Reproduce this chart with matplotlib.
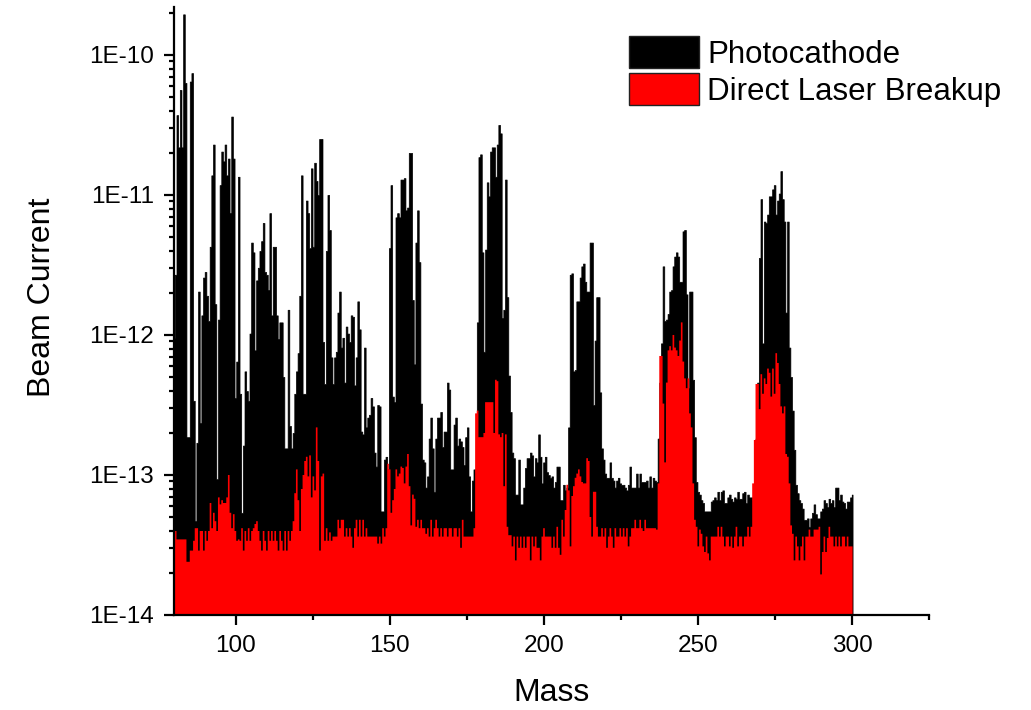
import numpy as np
import matplotlib
matplotlib.use("Agg")
import matplotlib.pyplot as plt
from matplotlib.patches import Patch
from matplotlib.ticker import LogLocator, FuncFormatter, NullFormatter

plt.rcParams['font.family'] = ['Liberation Sans', 'DejaVu Sans']

# ---------------- data (log10 of beam current, evenly sampled in mass) ----------------
MASS_FIRST = 80.0
MASS_LAST = 300.2

photocathode_80_132 = [
    -12.02, -11.57, -10.43, -10.66, -10.25, -10.66, -9.71, -10.20, -12.73, -12.73,
    -10.19, -10.13, -12.47, -13.33, -12.77, -11.69, -12.63, -11.86, -11.59, -11.55,
    -11.72, -11.90, -11.37, -10.86, -10.64, -11.78, -13.03, -11.89, -10.93, -10.69,
    -10.76, -10.64, -10.86, -10.74, -11.13, -10.44, -10.74, -12.45, -12.19, -10.87,
    -12.42, -13.27, -12.79, -12.26, -12.40, -12.47, -11.99, -11.34, -11.41, -12.11,
    -11.61, -11.52, -11.40, -11.33, -11.20, -11.55, -11.57, -11.68, -11.13, -11.86,
    -11.37, -11.37, -11.86, -12.03, -11.91, -11.91, -12.30, -12.81, -12.81, -11.82,
    -12.65, -12.81, -12.70, -12.42, -12.26, -12.13, -11.72, -10.86, -12.42, -12.42,
    -11.04, -11.13, -11.38, -10.81, -11.37, -10.77, -10.90, -11.00, -10.60, -10.60,
    -12.05, -12.35, -11.40, -11.00, -11.25, -12.16, -12.35, -12.16, -12.12]
photocathode_132_184 = [
    -11.84, -11.69, -12.09, -12.02, -12.34, -11.94, -11.99, -12.05, -11.86, -11.87,
    -12.36, -12.16, -11.76, -11.96, -12.69, -12.71, -12.09, -12.66, -12.59, -12.57,
    -12.45, -12.51, -12.84, -12.94, -12.50, -12.51, -13.26, -13.26, -12.89, -12.87,
    -12.96, -11.38, -10.93, -12.44, -12.48, -11.16, -11.13, -11.16, -10.89, -10.89,
    -10.88, -11.11, -11.09, -10.70, -10.70, -11.75, -12.21, -11.34, -11.11, -11.48,
    -12.49, -12.89, -12.91, -13.09, -13.01, -12.74, -12.59, -12.81, -13.12, -12.74,
    -12.59, -12.59, -12.55, -12.80, -12.69, -12.69, -12.34, -12.39, -12.96, -12.96,
    -12.64, -12.59, -12.79, -12.74, -12.76, -12.80, -12.93, -12.73, -12.66, -13.01,
    -13.26, -13.04, -12.96, -12.98, -11.91, -10.73, -10.71, -11.41, -12.12, -11.39,
    -10.91, -11.01, -10.69, -10.66, -10.66, -10.87]
photocathode_184_236 = [
    -10.64, -10.50, -10.56, -11.88, -11.82, -10.89, -11.73, -12.29, -12.55, -12.84,
    -12.88, -13.14, -13.14, -12.89, -13.21, -13.21, -13.09, -12.95, -12.88, -12.88,
    -12.84, -12.86, -13.01, -12.88, -12.91, -12.71, -12.87, -13.06, -12.91, -12.87,
    -12.98, -13.00, -13.02, -13.01, -13.09, -13.05, -12.94, -12.94, -13.18, -13.18,
    -13.07, -13.11, -13.09, -12.66, -11.57, -11.56, -12.26, -12.25, -11.76, -11.76,
    -11.59, -11.51, -11.49, -11.62, -11.69, -11.69, -11.34, -11.34, -12.50, -12.04,
    -11.73, -11.73, -12.41, -12.81, -12.89, -12.99, -13.02, -13.02, -12.91, -13.02,
    -13.04, -13.09, -13.04, -13.02, -13.06, -13.07, -13.07, -13.09, -13.11, -13.07,
    -12.94, -13.09, -13.09, -13.09, -12.99, -13.09, -12.99, -13.05, -13.05, -13.05,
    -13.04, -13.09, -13.01, -13.09, -13.02, -13.04]
photocathode_236_300 = [
    -13.05, -12.74, -12.34, -12.06, -11.51, -11.90, -11.89, -11.85, -11.69, -11.68,
    -11.51, -11.44, -11.41, -11.44, -11.62, -11.62, -11.26, -11.25, -11.71, -12.38,
    -11.69, -11.69, -12.32, -12.73, -13.05, -13.12, -13.14, -13.18, -13.20, -13.26,
    -13.26, -13.26, -13.26, -13.19, -13.18, -13.16, -13.18, -13.12, -13.18, -13.12,
    -13.11, -13.20, -13.20, -13.16, -13.14, -13.17, -13.19, -13.16, -13.17, -13.12,
    -13.17, -13.17, -13.13, -13.12, -13.20, -13.14, -13.16, -13.16, -13.18, -13.18,
    -12.74, -12.34, -11.45, -11.03, -12.06, -11.19, -11.20, -11.14, -11.01, -11.01,
    -10.96, -10.93, -11.14, -11.04, -10.99, -10.83, -11.03, -11.19, -11.84, -11.19,
    -12.09, -12.30, -12.54, -12.82, -13.07, -13.13, -13.18, -13.20, -13.24, -13.32,
    -13.32, -13.31, -13.37, -13.31, -13.27, -13.21, -13.28, -13.31, -13.31, -13.26,
    -13.24, -13.18, -13.20, -13.23, -13.17, -13.20, -13.18, -13.23, -13.09, -13.09,
    -13.18, -13.14, -13.19, -13.20, -13.24, -13.19, -13.19, -13.16, -13.14]

laser_80_132 = [
    -13.40, -13.40, -13.46, -13.46, -13.46, -13.46, -13.46, -13.46, -13.62, -13.62,
    -13.54, -13.54, -13.47, -13.38, -13.38, -13.54, -13.40, -13.40, -13.54, -13.40,
    -13.47, -13.40, -13.20, -13.38, -13.27, -13.33, -13.40, -13.16, -13.21, -13.18,
    -13.20, -13.20, -13.16, -13.00, -13.27, -13.38, -13.28, -13.40, -13.47, -13.46,
    -13.47, -13.38, -13.54, -13.40, -13.47, -13.38, -13.47, -13.40, -13.38, -13.35,
    -13.33, -13.40, -13.47, -13.54, -13.40, -13.47, -13.54, -13.40, -13.47, -13.40,
    -13.47, -13.40, -13.47, -13.54, -13.40, -13.47, -13.54, -13.40, -13.54, -13.40,
    -13.47, -13.40, -13.33, -13.13, -12.96, -13.18, -13.40, -13.10, -13.00, -12.90,
    -12.87, -13.01, -12.86, -13.16, -13.01, -13.11, -12.66, -12.90, -13.54, -13.01,
    -12.99, -13.47, -13.38, -13.47, -13.41, -13.47, -13.44, -13.44, -13.44]
laser_132_184 = [
    -13.32, -13.38, -13.32, -13.32, -13.44, -13.38, -13.44, -13.38, -13.44, -13.52,
    -13.38, -13.32, -13.44, -13.32, -13.44, -13.32, -13.44, -13.38, -13.44, -13.44,
    -13.44, -13.44, -13.44, -13.44, -13.49, -13.44, -13.49, -13.38, -13.44, -13.38,
    -12.92, -12.96, -13.27, -13.18, -13.10, -12.96, -13.01, -12.99, -12.94, -12.95,
    -13.06, -12.94, -12.85, -13.08, -13.36, -13.14, -13.17, -13.37, -13.32, -13.38,
    -13.32, -13.38, -13.38, -13.42, -13.38, -13.44, -13.32, -13.44, -13.38, -13.32,
    -13.38, -13.44, -13.38, -13.44, -13.38, -13.38, -13.44, -13.38, -13.38, -13.44,
    -13.38, -13.38, -13.44, -13.38, -13.52, -13.32, -13.44, -13.44, -13.44, -13.44,
    -13.44, -13.44, -13.38, -12.56, -12.54, -12.73, -12.73, -12.73, -12.70, -12.48,
    -12.48, -12.48, -12.48, -12.48, -12.70, -12.32]
laser_184_236 = [
    -12.33, -12.71, -12.73, -12.70, -13.08, -12.71, -13.37, -13.43, -13.43, -13.51,
    -13.44, -13.61, -13.44, -13.52, -13.44, -13.52, -13.44, -13.52, -13.44, -13.44,
    -13.61, -13.44, -13.51, -13.44, -13.52, -13.52, -13.61, -13.44, -13.38, -13.44,
    -13.44, -13.44, -13.44, -13.52, -13.44, -13.52, -13.37, -13.52, -13.57, -13.32,
    -13.44, -13.25, -13.07, -13.11, -13.51, -13.15, -13.08, -13.02, -12.99, -12.96,
    -13.01, -13.05, -13.06, -13.06, -12.88, -12.90, -13.30, -13.44, -13.12, -13.12,
    -13.37, -13.44, -13.44, -13.38, -13.44, -13.38, -13.52, -13.44, -13.38, -13.44,
    -13.52, -13.38, -13.44, -13.44, -13.38, -13.44, -13.38, -13.44, -13.38, -13.51,
    -13.44, -13.38, -13.38, -13.32, -13.38, -13.38, -13.32, -13.38, -13.40, -13.32,
    -13.38, -13.38, -13.38, -13.38, -13.38, -13.38]
laser_236_300 = [
    -13.39, -13.06, -12.15, -12.15, -12.49, -12.91, -12.34, -12.11, -12.08, -12.11,
    -12.00, -12.09, -12.11, -12.15, -12.04, -11.91, -12.19, -12.31, -12.38, -12.31,
    -12.56, -12.66, -13.06, -13.32, -13.37, -13.51, -13.39, -13.42, -13.51, -13.55,
    -13.44, -13.56, -13.61, -13.44, -13.44, -13.44, -13.44, -13.37, -13.44, -13.37,
    -13.44, -13.51, -13.44, -13.44, -13.51, -13.44, -13.52, -13.44, -13.37, -13.51,
    -13.44, -13.44, -13.51, -13.44, -13.44, -13.37, -13.44, -13.37, -13.06, -12.75,
    -12.35, -12.35, -12.53, -12.28, -12.42, -12.31, -12.35, -12.24, -12.27, -12.44,
    -12.24, -12.42, -12.13, -12.20, -12.35, -12.51, -12.56, -12.51, -12.85, -12.87,
    -13.06, -13.36, -13.42, -13.61, -13.44, -13.51, -13.61, -13.51, -13.44, -13.61,
    -13.44, -13.44, -13.39, -13.44, -13.44, -13.39, -13.39, -13.39, -13.37, -13.71,
    -13.55, -13.44, -13.55, -13.45, -13.37, -13.44, -13.44, -13.51, -13.44, -13.51,
    -13.44, -13.51, -13.44, -13.44, -13.51, -13.44, -13.51, -13.51, -13.51]

series_labels = ["Photocathode", "Direct Laser Breakup"]
x_major_ticks = [100, 150, 200, 250, 300]
x_minor_ticks = [125, 175, 225, 275, 325]
y_major_ticks = [1e-14, 1e-13, 1e-12, 1e-11, 1e-10]

# ---------------- build series ----------------
photocathode_log = (photocathode_80_132 + photocathode_132_184
                    + photocathode_184_236 + photocathode_236_300)
laser_log = laser_80_132 + laser_132_184 + laser_184_236 + laser_236_300
mass = np.linspace(MASS_FIRST, MASS_LAST, len(photocathode_log))
photocathode = 10.0 ** np.array(photocathode_log)
laser = 10.0 ** np.array(laser_log)

# ---------------- figure ----------------
W, H = 1031, 710
fig = plt.figure(figsize=(W / 100, H / 100), dpi=100)
ax = fig.add_axes([174 / W, 1 - 615 / H, (929 - 174) / W, (615 - 7) / H])

base = 1e-14
ax.fill_between(mass, base, photocathode, step='mid', facecolor='black',
                edgecolor='black', lw=0.5, zorder=2)
ax.fill_between(mass, base, laser, step='mid', facecolor='#ff0000',
                edgecolor='none', lw=0, zorder=3)

ax.set_yscale('log')
ax.set_ylim(1e-14, 2.2e-10)
ax.set_xlim(80, 325)

ax.set_xticks(x_major_ticks)
ax.set_xticks(x_minor_ticks, minor=True)
ax.set_yticks(y_major_ticks)
ax.yaxis.set_minor_locator(LogLocator(base=10, subs=np.arange(2, 10)))
ax.yaxis.set_minor_formatter(NullFormatter())
ax.yaxis.set_major_formatter(FuncFormatter(lambda v, p: "1E%d" % int(round(np.log10(v)))))

for s in ('top', 'right'):
    ax.spines[s].set_visible(False)
for s in ('left', 'bottom'):
    ax.spines[s].set_linewidth(1.6)
    ax.spines[s].set_zorder(5)

ax.tick_params(which='major', direction='out', length=7.5, width=1.6,
               labelsize=17.5, pad=7, colors='black')
ax.tick_params(which='minor', direction='out', length=3.8, width=1.6)

fig.text(552 / W, 1 - 693 / H, "Mass", ha='center', va='center', fontsize=23)
fig.text(42 / W, 1 - 297 / H, "Beam Current", ha='center', va='center',
         rotation=90, fontsize=23)

handles = [Patch(facecolor='black', edgecolor='#222222', lw=1),
           Patch(facecolor='#ff0000', edgecolor='#222222', lw=1)]
fig.legend(handles, series_labels, loc='upper left',
           bbox_to_anchor=(629 / W, 1 - 36 / H), frameon=False, fontsize=22.5,
           handlelength=2.25, handleheight=1.2, handletextpad=0.25,
           labelspacing=0.12, borderpad=0, borderaxespad=0)

fig.savefig('out.png', dpi=100)
